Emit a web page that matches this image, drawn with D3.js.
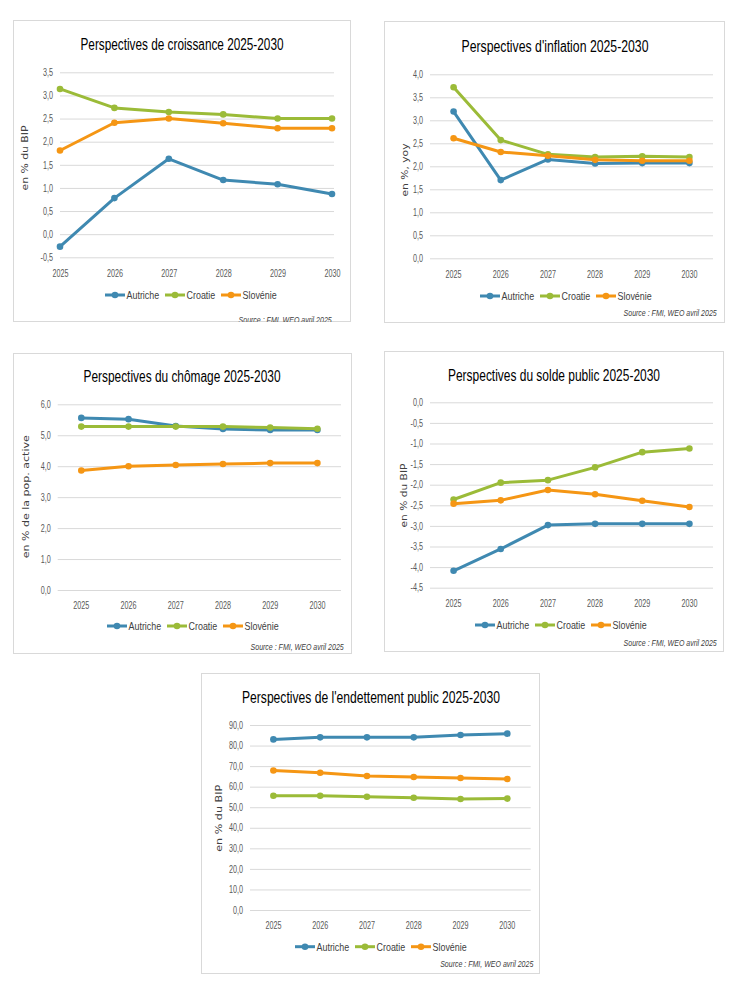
<!DOCTYPE html>
<html><head><meta charset="utf-8">
<script src="https://cdn.jsdelivr.net/npm/d3@7"></script>
<style>
html,body{margin:0;padding:0;background:#fff;}
svg{display:block;font-family:"Liberation Sans",Arial,sans-serif;}
</style></head>
<body>
<svg id="chart" width="735" height="997"></svg>
<script>
// ---------- DATA ----------
const years = ["2025","2026","2027","2028","2029","2030"];
const seriesNames = ["Autriche","Croatie","Slovénie"];
const seriesColors = ["#3f89b1","#9bbb38","#f59614"];

const croissanceAutriche = [-0.27, 0.78, 1.63, 1.17, 1.08, 0.87];
const croissanceCroatie  = [3.14, 2.73, 2.64, 2.59, 2.50, 2.50];
const croissanceSlovenie = [1.81, 2.41, 2.50, 2.40, 2.29, 2.29];
const croissanceTicks = [-0.5, 0, 0.5, 1, 1.5, 2, 2.5, 3, 3.5];

const inflationAutriche = [3.19, 1.70, 2.15, 2.06, 2.07, 2.07];
const inflationCroatie  = [3.72, 2.57, 2.26, 2.20, 2.22, 2.20];
const inflationSlovenie = [2.61, 2.31, 2.23, 2.14, 2.12, 2.12];
const inflationTicks = [0, 0.5, 1, 1.5, 2, 2.5, 3, 3.5, 4];

const chomageAutriche = [5.56, 5.52, 5.30, 5.20, 5.17, 5.17];
const chomageCroatie  = [5.28, 5.28, 5.28, 5.28, 5.25, 5.21];
const chomageSlovenie = [3.86, 4.00, 4.04, 4.07, 4.10, 4.10];
const chomageTicks = [0, 1, 2, 3, 4, 5, 6];

const soldeAutriche = [-4.09, -3.56, -2.98, -2.95, -2.95, -2.95];
const soldeCroatie  = [-2.36, -1.95, -1.89, -1.58, -1.21, -1.12];
const soldeSlovenie = [-2.46, -2.38, -2.13, -2.23, -2.39, -2.54];
const soldeTicks = [-4.5, -4, -3.5, -3, -2.5, -2, -1.5, -1, -0.5, 0];

const detteAutriche = [83.0, 84.0, 84.0, 84.0, 85.1, 85.8];
const detteCroatie  = [55.6, 55.6, 55.1, 54.6, 54.0, 54.2];
const detteSlovenie = [67.9, 66.8, 65.2, 64.7, 64.2, 63.7];
const detteTicks = [0, 10, 20, 30, 40, 50, 60, 70, 80, 90];

const sourceText = "Source : FMI, WEO avril 2025";

// ---------- LAYOUT ----------
const panels = [
  {title:"Perspectives de croissance 2025-2030", titleW:203, titleX:182, titleY:49.5,
   box:[13,20,351,322], mode:"point", xr:[60,332], gx:[60,334],
   yd:[-0.5,3.5], yr:[257.3,72.3], ticks:croissanceTicks,
   data:[croissanceAutriche,croissanceCroatie,croissanceSlovenie],
   ytitle:"en % du BIP", ytW:65, ytX:24, ytY:158,
   legX:105, legY:295, srcX:331.7, srcY:323},
  {title:"Perspectives d'inflation 2025-2030", titleW:187, titleX:555, titleY:51.7,
   box:[384,21,725,323], mode:"band", xr:[430,713], gx:[430,713],
   yd:[0,4], yr:[258.3,74.3], ticks:inflationTicks,
   data:[inflationAutriche,inflationCroatie,inflationSlovenie],
   ytitle:"en %, yoy", ytW:53, ytX:404, ytY:170,
   legX:480, legY:296, srcX:716.7, srcY:315.5},
  {title:"Perspectives du chômage 2025-2030", titleW:197, titleX:182, titleY:382.3,
   box:[13,353,352,654], mode:"band", xr:[57.7,341], gx:[57.7,341],
   yd:[0,6], yr:[590,404.3], ticks:chomageTicks,
   data:[chomageAutriche,chomageCroatie,chomageSlovenie],
   ytitle:"en % de la pop. active", ytW:123, ytX:25.3, ytY:496.7,
   legX:107, legY:626, srcX:343.7, srcY:650},
  {title:"Perspectives du solde public 2025-2030", titleW:212, titleX:554, titleY:380.7,
   box:[384,351,724,652], mode:"band", xr:[430,713], gx:[430,713],
   yd:[-4.5,0], yr:[587.7,402.3], ticks:soldeTicks,
   data:[soldeAutriche,soldeCroatie,soldeSlovenie],
   ytitle:"en % du BIP", ytW:64, ytX:403, ytY:495.5,
   legX:475, legY:625, srcX:716.7, srcY:646},
  {title:"Perspectives de l'endettement public 2025-2030", titleW:258, titleX:371, titleY:702.7,
   box:[201,673,540,974], mode:"band", xr:[250,530.7], gx:[250,530.7],
   yd:[0,90], yr:[910,725], ticks:detteTicks,
   data:[detteAutriche,detteCroatie,detteSlovenie],
   ytitle:"en % du BIP", ytW:67, ytX:218, ytY:818.3,
   legX:295, legY:946.7, srcX:533.3, srcY:967}
];

const legendOffsets = [0, 60, 116];
const fmt = v => d3.format(".1f")(v).replace(".", ",").replace("−","-");

function condense(sel, ratio) {
  sel.each(function() {
    const w = this.getComputedTextLength();
    d3.select(this).attr("textLength", (w * ratio).toFixed(2)).attr("lengthAdjust", "spacingAndGlyphs");
  });
}

const svg = d3.select("#chart");
const defs = svg.append("defs");

panels.forEach((p, pi) => {
  const [bx0, by0, bx1, by1] = p.box;
  const clipId = "clip" + pi;
  defs.append("clipPath").attr("id", clipId)
    .append("rect").attr("x", bx0).attr("y", by0).attr("width", bx1-bx0).attr("height", by1-by0);

  const g = svg.append("g").attr("clip-path", `url(#${clipId})`);
  g.append("rect").attr("x", bx0+0.5).attr("y", by0+0.5)
    .attr("width", bx1-bx0-1).attr("height", by1-by0-1)
    .attr("fill", "#fff").attr("stroke", "#d9d9d9").attr("stroke-width", 1);

  // scales
  const y = d3.scaleLinear().domain(p.yd).range(p.yr);
  let x, xpos;
  if (p.mode === "point") {
    x = d3.scalePoint().domain(years).range(p.xr);
    xpos = d => x(d);
  } else {
    x = d3.scaleBand().domain(years).range(p.xr);
    xpos = d => x(d) + x.bandwidth()/2;
  }

  // y axis with gridlines
  const yAxis = d3.axisLeft(y).tickValues(p.ticks).tickFormat(fmt)
    .tickSize(-(p.gx[1]-p.gx[0])).tickPadding(7);
  const ya = g.append("g").attr("transform", `translate(${p.gx[0]},0)`).call(yAxis);
  ya.select(".domain").remove();
  ya.selectAll(".tick line").attr("stroke", "#d9d9d9").attr("stroke-width", 1);
  ya.selectAll(".tick text").attr("fill", "#595959").style("font-size", "10px")
    .style("font-family", '"Liberation Sans",Arial,sans-serif');
  condense(ya.selectAll(".tick text"), 0.72);

  // x axis
  const xa = g.append("g").attr("transform", `translate(0,${p.yr[0]})`)
    .call(d3.axisBottom(x).tickSize(0).tickPadding(12.3));
  xa.select(".domain").remove();
  xa.selectAll(".tick text").attr("fill", "#595959").style("font-size", "10px")
    .style("font-family", '"Liberation Sans",Arial,sans-serif');
  condense(xa.selectAll(".tick text"), 0.72);

  // lines
  const line = d3.line().x((d,i) => xpos(years[i])).y(d => y(d));
  p.data.forEach((vals, si) => {
    g.append("path").datum(vals).attr("d", line)
      .attr("fill", "none").attr("stroke", seriesColors[si])
      .attr("stroke-width", 3).attr("stroke-linejoin", "round").attr("stroke-linecap", "round");
    g.selectAll(null).data(vals).enter().append("circle")
      .attr("cx", (d,i) => xpos(years[i])).attr("cy", d => y(d)).attr("r", 3.3)
      .attr("fill", seriesColors[si]);
  });

  // title
  g.append("text").attr("x", p.titleX).attr("y", p.titleY)
    .attr("text-anchor", "middle").attr("fill", "#000")
    .attr("textLength", p.titleW).attr("lengthAdjust", "spacingAndGlyphs")
    .style("font-size", "16px").text(p.title);

  // y title
  g.append("text")
    .attr("transform", `translate(${p.ytX},${p.ytY}) rotate(-90)`)
    .attr("text-anchor", "middle").attr("dominant-baseline", "central")
    .attr("fill", "#404040").style("font-family", '"DejaVu Sans",sans-serif')
    .style("font-size", "9.5px")
    .attr("textLength", p.ytW).attr("lengthAdjust", "spacingAndGlyphs")
    .text(p.ytitle);

  // legend
  seriesNames.forEach((name, si) => {
    const lx = p.legX + legendOffsets[si];
    g.append("line").attr("x1", lx).attr("x2", lx+20).attr("y1", p.legY).attr("y2", p.legY)
      .attr("stroke", seriesColors[si]).attr("stroke-width", 3);
    g.append("circle").attr("cx", lx+10).attr("cy", p.legY).attr("r", 3.3).attr("fill", seriesColors[si]);
    const t = g.append("text").attr("x", lx+21.5).attr("y", p.legY).attr("dominant-baseline", "central")
      .attr("fill", "#404040").style("font-size", "10.5px").text(name);
    condense(t, 0.85);
  });

  // source (condensed via horizontal scale)
  g.append("text")
    .attr("transform", `translate(${p.srcX},${p.srcY}) scale(0.78,1)`)
    .attr("text-anchor", "end")
    .attr("fill", "#404040").style("font-size", "9px").style("font-style", "italic")
    .text(sourceText);
});
</script>
</body></html>
